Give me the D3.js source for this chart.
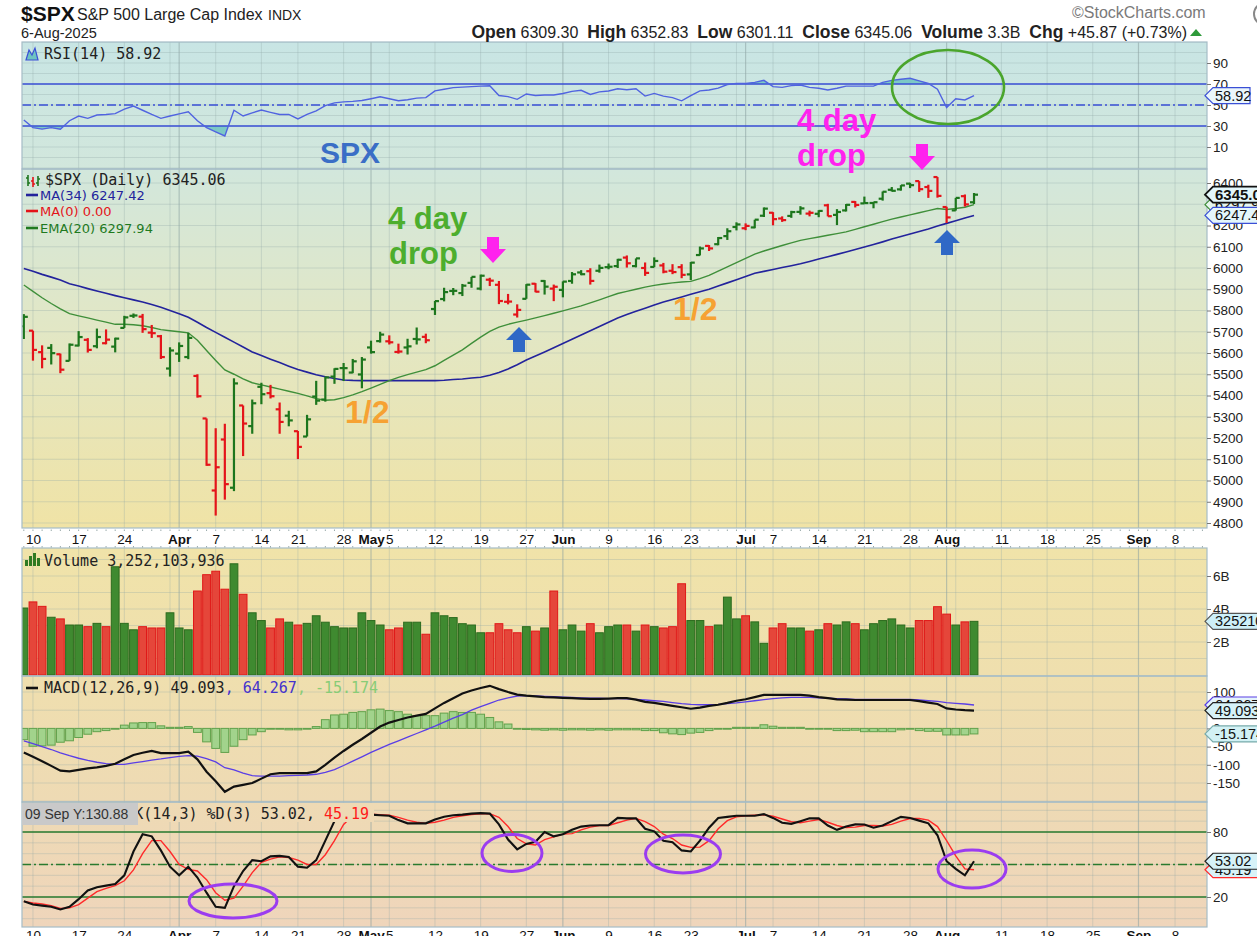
<!DOCTYPE html>
<html><head><meta charset="utf-8">
<script src="https://cdn.jsdelivr.net/npm/d3@7/dist/d3.min.js"></script>
<style>
html,body{margin:0;padding:0;background:#fff}
svg{display:block}
text{white-space:pre}
</style></head><body>
<svg id="chart" width="1257" height="936"></svg>
<script>
// ---------------- DATA ----------------
const firstDay = "2025-03-07", lastAxisDay = "2025-09-12";
const holidays = ["2025-04-18","2025-05-26","2025-06-19","2025-07-04","2025-09-01"];
const prevClose = 5738.5;

const opens = [5726,5705,5604,5624,5594,5563,5635,5662,5632,5646,5630,5718,5775,5771,5696,5679,5527,5597,5581,5492,
5292,4953,5193,4966,5353,5256,5441,5411,5335,5305,5232,5207,5395,5381,5489,5529,5508,5499,5626,5656,
5655,5605,5626,5666,5676,5807,5854,5892,5882,5930,5903,5945,5921,5841,5781,5855,5926,5939,5903,5897,
5939,5979,5985,5987,6004,6009,6049,6009,6000,6005,6012,5987,6004,5970,6061,6104,6112,6150,6193,6187,
6191,6246,6260,6233,6245,6264,6256,6255,6295,6250,6271,6311,6304,6306,6326,6368,6370,6397,6409,6381,
6428,6287,6271,6338,6309.30];
const highs = [5783,5705,5636,5642,5597,5645,5703,5670,5715,5711,5672,5775,5786,5784,5732,5685,5627,5650,5695,5500,
5292,5246,5267,5481,5353,5381,5460,5450,5367,5328,5233,5309,5469,5489,5528,5553,5572,5581,5658,5700,
5683,5644,5667,5720,5691,5845,5907,5906,5925,5958,5969,5954,5939,5878,5829,5924,5929,5943,5922,5937,
5981,5990,5999,6016,6021,6043,6059,6045,6026,6050,6024,6018,6018,6028,6101,6108,6146,6187,6215,6210,
6227,6285,6263,6243,6269,6291,6270,6272,6302,6277,6301,6315,6336,6310,6360,6381,6390,6401,6409,6392,
6428,6288,6330,6346,6352.83];
const lows = [5666,5564,5528,5546,5505,5563,5631,5602,5622,5641,5603,5718,5765,5695,5671,5572,5489,5558,5571,5390,
5069,4835,4910,4950,5115,5220,5359,5386,5220,5255,5101,5207,5356,5371,5455,5468,5505,5434,5597,5649,
5640,5597,5593,5640,5646,5779,5843,5872,5868,5907,5895,5915,5830,5829,5767,5855,5886,5875,5844,5862,
5926,5966,5922,5978,5994,6000,6002,6003,5963,6004,5975,5971,5952,5943,6059,6080,6107,6132,6177,6178,
6187,6240,6201,6217,6236,6251,6243,6239,6243,6202,6266,6285,6303,6281,6317,6360,6364,6376,6358,6330,
6331,6212,6270,6289,6301.11];
const closes = [5770.2,5614.6,5572.1,5599.3,5521.5,5638.9,5675.1,5614.7,5675.3,5662.9,5667.6,5767.6,5776.6,5712.2,5693.3,5580.9,5611.9,5633.1,5671.0,5396.5,
5074.1,5062.3,4982.8,5456.9,5268.1,5363.4,5406.0,5396.6,5275.7,5282.7,5158.2,5287.8,5375.9,5484.8,5525.2,5528.75,5560.8,5569.1,5604.1,5686.7,
5650.4,5606.9,5631.3,5663.9,5659.9,5844.2,5886.6,5892.6,5916.9,5958.4,5963.6,5940.5,5844.6,5842.0,5802.8,5921.5,5888.6,5912.2,5911.7,5935.9,
5970.4,5970.8,5939.3,6000.4,6005.9,6038.8,6022.2,6045.3,5977.0,6033.1,5982.7,5980.9,5967.8,6025.2,6092.18,6092.16,6141.0,6173.1,6204.95,6198.0,
6227.4,6279.35,6229.98,6225.5,6263.3,6280.5,6259.75,6268.6,6243.8,6263.7,6297.36,6296.79,6305.6,6309.6,6358.9,6363.35,6388.6,6389.8,6370.9,6362.9,
6339.4,6238.0,6329.9,6299.2,6345.06];
const volumeB = [4.06,4.43,4.16,3.5,3.4,3.03,3.03,2.93,3.13,2.93,6.56,3.13,2.74,2.93,2.85,2.85,3.77,2.85,2.74,5.09,
6.08,6.29,5.2,6.74,4.89,3.77,3.3,2.85,3.4,3.2,3.03,3.13,3.59,3.2,2.93,2.85,2.85,3.77,3.3,3.03,
2.74,2.85,3.2,3.2,2.47,3.77,3.59,3.48,3.11,3.03,2.56,2.56,3.11,2.74,2.56,2.93,2.66,2.85,5.09,2.74,
3.03,2.66,3.11,2.56,2.93,3.03,3.03,2.66,3.03,2.93,2.85,2.93,5.53,3.3,3.3,2.93,3.03,4.72,3.4,3.59,
3.22,1.92,2.85,3.11,2.85,2.85,2.66,2.74,3.11,3.03,3.22,3.11,2.74,3.11,3.3,3.4,3.03,2.85,3.3,3.3,
4.14,3.69,3.03,3.22,3.252];
const ma34 = [5998,5985,5970,5957,5943,5926,5915,5903,5892,5881,5870,5860,5850,5840,5828,5815,5800,5785,5768,5745,
5720,5697,5674,5651,5628,5605,5588,5571,5555,5538,5522,5510,5498,5488,5480,5473,5471,5470,5470,5470,
5470,5470,5470,5470,5470,5470,5472,5475,5478,5482,5486,5495,5508,5525,5545,5567,5586,5605,5625,5645,
5665,5685,5705,5725,5745,5765,5781,5796,5811,5826,5840,5852,5864,5876,5888,5900,5915,5930,5945,5960,
5975,5984,5993,6002,6011,6020,6031,6042,6053,6064,6075,6087,6099,6111,6123,6136,6148,6160,6172,6184,
6198,6210,6222,6235,6247.42];
const ema20 = [5920,5890,5860,5833,5808,5785,5775,5765,5755,5745,5735,5735,5733,5728,5720,5710,5705,5700,5695,5660,
5612,5565,5520,5500,5478,5460,5450,5440,5430,5420,5410,5398,5385,5378,5380,5390,5403,5418,5435,5452,
5470,5485,5498,5510,5522,5540,5565,5590,5615,5645,5675,5702,5722,5735,5745,5755,5765,5776,5787,5798,
5810,5822,5836,5850,5865,5880,5890,5900,5910,5918,5925,5930,5934,5937,5950,5965,5985,6005,6025,6045,
6065,6080,6093,6106,6118,6130,6138,6146,6154,6162,6170,6182,6194,6206,6218,6230,6240,6250,6260,6270,
6280,6275,6280,6286,6297.94];
const rsi14 = [35.7,28.5,27,28.4,26.9,35,39.5,37.3,40.5,41,41.8,46,49,45,41,37.3,39.5,41.5,43.6,35,
28.5,24.5,20.5,45,39.5,42.5,45.2,43,41,41.1,36.7,41,44.5,49.5,52,53,53.5,54.3,56,57.9,
56,54,55,56.5,57,63.5,65,66.5,67,67.5,68,68.4,59,58,55.4,60.5,59,59.5,59.5,61,
63,64,60,62.5,63.3,65.5,64.5,65.5,58.5,61,58.5,57,54,59,63.5,64.3,66,69.5,70.6,70.6,
71.5,73.5,67.5,66.8,68.5,69,66.8,66,64.3,66,68,68,68,68,71.5,73.5,74.5,75.4,73,70.5,
65,47.5,56,54.8,58.92];
const macdLine = [-66,-78,-90,-103,-116,-118,-114,-110,-107,-103,-97,-85,-73,-67,-62,-68,-68,-68,-64,-85,
-119,-145,-174,-160,-155,-150,-138,-126,-123,-123,-123,-123,-118,-100,-80,-62,-45,-29,-12,5,
16,23,30,35,40,55,70,83,96,104,111,117,108,100,93,90,88,86,85,84,
83,82,81,81,82,83,83,79,73,70,66,62,58,54,57,62,65,70,76,80,
86,92,92,92,92,92,90,86,83,80,79,78,78,78,78,78,78,78,75,71,
67,55,52,50,49.093];
const signalLine = [-34,-42,-50,-58,-67,-75,-82,-88,-93,-97,-99,-99,-95,-91,-87,-84,-80,-77,-75,-76,
-83,-92,-108,-114,-123,-130,-131,-131,-131,-130,-129,-128,-126,-121,-113,-102,-90,-78,-66,-55,
-44,-34,-24,-14,-4,6,17,28,38,50,60,69,78,84,89,90,89,88,87,86,
85,84,83,83,82,82,81,80,78,76,74,71,68,66,65,65,66,68,70,73,
76,79,82,84,85,85,85,84,83,82,81,80,80,80,80,80,80,80,78,76,
74,71,69,67,64.267];
const macdHist = [-31,-49,-48,-46,-38,-34,-25,-16,-9,-6,-2,9,15,16,16,7,3,3,5,-11,
-37,-55,-66,-49,-31,-18,-9,-2,-2,-4,-4,0,5,24,37,39,44,46,51,53,
49,46,39,35,35,35,42,46,44,44,39,30,18,12,0,-3,-4,-5,-4,-5,
-4,-4,-5,-4,-5,-4,-4,-4,-6,-6,-12,-15,-17,-13,-11,-6,-2,0,3,3,
3,10,6,3,3,3,0,-2,-2,-6,-6,-5,-9,-9,-9,-9,-4,-2,-6,-8,
-8,-18,-18,-18,-15.174];
const stochK = [16,13,12,11,8.5,11,18,26,29,30.5,32,40,62,78,76,63,48,40,48,38,
24,11,10,30,44,54,53,57.5,58,57,48,47,54,72,90,97,97,96.5,96,95.5,
95,91,88,88,88,91.5,94,95.5,96,97,97.4,97,87,73,64,69,71,80,76,78,
82,85,86,86.3,86.3,93,92.6,92.6,83,80.6,72,70.5,63,62,72,84,93,94,95,95,
95,96.5,93,88.5,87.5,90,92.6,92.6,86,82,85,87,86.9,84,86,90,94,93,90.5,88,
77,53,46,40,53.02];
const stochD = [16,14.5,13.5,12,9.5,10,13,19,25,28,30.5,35,45,60,72,72,62,50,45.5,44,
36,24,17,19,30,42.5,52,55,57,56.5,54,50,50,59,72,87,95,96.5,96.5,96,
95.5,93.5,91,89,88,89,91,93.5,95,96,96.8,97,93.5,85,74,69,68,73,75.5,78,
78.5,82,84.5,86,86,88.5,91,92.6,89.5,85,78,74,68,65.8,66,72,83,90.5,94,95,
95.5,95.8,94.5,92,89.5,88.5,90,91.5,89,86,84,84.5,86,86,85.5,87,90,92.5,92.5,91,
85,72,58,46,45.19];

const xTickLabels = [["2025-03-10","10"],["2025-03-17","17"],["2025-03-24","24"],["2025-04-01","Apr"],["2025-04-07","7"],
["2025-04-14","14"],["2025-04-21","21"],["2025-04-28","28"],["2025-05-01","May"],["2025-05-05","5"],["2025-05-12","12"],
["2025-05-19","19"],["2025-05-27","27"],["2025-06-02","Jun"],["2025-06-09","9"],["2025-06-16","16"],["2025-06-23","23"],
["2025-07-01","Jul"],["2025-07-07","7"],["2025-07-14","14"],["2025-07-21","21"],["2025-07-28","28"],["2025-08-01","Aug"],
["2025-08-11","11"],["2025-08-18","18"],["2025-08-25","25"],["2025-09-02","Sep"],["2025-09-08","8"]];
const monthNames = ["Apr","May","Jun","Jul","Aug","Sep"];
const rsiTicks = [10,30,50,70,90];
const priceTicks = [4800,4900,5000,5100,5200,5300,5400,5500,5600,5700,5800,5900,6000,6100,6200,6300,6400];
const volTicks = [2,4,6];
const macdTicks = [-150,-100,-50,0,50,100];
const stoTicks = [20,80];

// ---------------- SETUP ----------------
const svg = d3.select("#chart");
const SANS = "'Liberation Sans', Arial, sans-serif";
const MONO = "'DejaVu Sans Mono', monospace";
const DV = "'DejaVu Sans', sans-serif";
const fmt = d3.timeFormat("%Y-%m-%d");
const allDays = d3.timeDay.range(d3.timeParse("%Y-%m-%d")(firstDay), d3.timeDay.offset(d3.timeParse("%Y-%m-%d")(lastAxisDay),1))
  .filter(dt => dt.getDay() % 6 !== 0 && !holidays.includes(fmt(dt)));
const idxOf = s => allDays.findIndex(dt => fmt(dt) === s);
const N = closes.length;

const L = 22, R = 1207;
const P = {rsi:[42,169], price:[169,528], vol:[548,676], macd:[676,802], sto:[802,927]};

const x = d3.scaleLinear().domain([-0.2, 129.5]).range([L, R]);
const yR = d3.scaleLinear().domain([0,100]).range([157.5,52.5]);
const yP = d3.scaleLinear().domain([4800,6400]).range([523,183]);
const yV = d3.scaleLinear().domain([0,6]).range([675,576]);
const yM = d3.scaleLinear().domain([-150,100]).range([783,692]);
const yS = d3.scaleLinear().domain([20,80]).range([897,832]);

const defs = svg.append("defs");
const grad = defs.append("linearGradient").attr("id","bg").attr("gradientUnits","userSpaceOnUse")
  .attr("x1",0).attr("x2",0).attr("y1",42).attr("y2",927);
[[0,"#c8e5e4"],[0.145,"#d2e7dc"],[0.325,"#e2e7c5"],[0.549,"#f0e3a6"],[0.571,"#f0e3a9"],[0.715,"#efdfae"],[0.858,"#eedab4"],[1,"#efd5bb"]]
  .forEach(([o,c]) => grad.append("stop").attr("offset",o).attr("stop-color",c));

Object.entries(P).forEach(([k,[t,b]]) => {
  defs.append("clipPath").attr("id","clip-"+k).append("rect").attr("x",L).attr("y",t).attr("width",R-L).attr("height",b-t);
  svg.append("rect").attr("x",L).attr("y",t).attr("width",R-L).attr("height",b-t).attr("fill","url(#bg)");
});
const layer = k => svg.append("g").attr("clip-path",`url(#clip-${k})`);

// vertical grid (week starts & month starts)
const weekStarts = [], monthStarts = [];
allDays.forEach((dt,i) => {
  if (i === 0) return;
  const p = allDays[i-1];
  if (dt.getMonth() !== p.getMonth()) monthStarts.push(i);
  else if (dt.getDay() < p.getDay()) weekStarts.push(i);
});
const grid = svg.append("g");
Object.entries(P).forEach(([k,[t,b]]) => {
  const g = grid.append("g").attr("clip-path",`url(#clip-${k})`);
  weekStarts.forEach(i => g.append("line").attr("x1",x(i)).attr("x2",x(i)).attr("y1",t).attr("y2",b)
    .attr("stroke","#8fa6a6").attr("stroke-opacity",0.3).attr("stroke-width",1));
  monthStarts.forEach(i => g.append("line").attr("x1",x(i)).attr("x2",x(i)).attr("y1",t).attr("y2",b)
    .attr("stroke","#8aa0a0").attr("stroke-opacity",0.55).attr("stroke-width",1.2));
});
function hgrid(k, scale, vals){
  const g = grid.append("g").attr("clip-path",`url(#clip-${k})`);
  vals.forEach(v => g.append("line").attr("x1",L).attr("x2",R).attr("y1",scale(v)).attr("y2",scale(v))
    .attr("stroke","#8fa6a6").attr("stroke-opacity",0.3));
}
hgrid("rsi", yR, d3.range(-10,111,10));
hgrid("price", yP, d3.range(4800,6500,100));
hgrid("vol", yV, [1,2,3,4,5,6,7]);
hgrid("macd", yM, d3.range(-200,151,50));
hgrid("sto", yS, d3.range(0,101,10));

// ---------------- RSI ----------------
const gR = layer("rsi");
const rsiLineGen = d3.line().x((d,i)=>x(i)).y(d=>yR(d));
defs.append("clipPath").attr("id","rsiHi").append("rect").attr("x",L).attr("y",P.rsi[0]).attr("width",R-L).attr("height",yR(70)-P.rsi[0]);
defs.append("clipPath").attr("id","rsiLo").append("rect").attr("x",L).attr("y",yR(30)).attr("width",R-L).attr("height",P.rsi[1]-yR(30));
gR.append("path").datum(rsi14).attr("clip-path","url(#rsiHi)")
  .attr("d", d3.area().x((d,i)=>x(i)).y0(yR(70)).y1(d=>yR(d))).attr("fill","#6ec3c1").attr("opacity",0.85);
gR.append("path").datum(rsi14).attr("clip-path","url(#rsiLo)")
  .attr("d", d3.area().x((d,i)=>x(i)).y0(yR(30)).y1(d=>yR(d))).attr("fill","#6ec3c1").attr("opacity",0.85);
[70,30].forEach(v => gR.append("line").attr("x1",L).attr("x2",R).attr("y1",yR(v)).attr("y2",yR(v)).attr("stroke","#3a4fd6").attr("stroke-width",1.6));
gR.append("line").attr("x1",L).attr("x2",R).attr("y1",yR(50)).attr("y2",yR(50)).attr("stroke","#3a4fd6").attr("stroke-width",1.3).attr("stroke-dasharray","9,3,2,3");
gR.append("path").datum(rsi14).attr("d",rsiLineGen).attr("fill","none").attr("stroke","#5063e0").attr("stroke-width",1.4);

// ---------------- PRICE ----------------
const gP = layer("price");
const lineGen = (ys) => d3.line().x((d,i)=>x(i)).y(d=>ys(d));
gP.append("path").datum(ma34).attr("d",lineGen(yP)).attr("fill","none").attr("stroke","#23239c").attr("stroke-width",1.6);
gP.append("path").datum(ema20).attr("d",lineGen(yP)).attr("fill","none").attr("stroke","#3f8f3a").attr("stroke-width",1.4);
const upDown = closes.map((c,i) => c > (i ? closes[i-1] : prevClose));
const GREEN = "#1d761d", RED = "#e4141a";
closes.forEach((c,i) => {
  const col = upDown[i] ? GREEN : RED, cx = x(i);
  gP.append("line").attr("x1",cx).attr("x2",cx).attr("y1",yP(highs[i])).attr("y2",yP(lows[i])).attr("stroke",col).attr("stroke-width",2.2);
  gP.append("line").attr("x1",cx-4).attr("x2",cx).attr("y1",yP(opens[i])).attr("y2",yP(opens[i])).attr("stroke",col).attr("stroke-width",2.2);
  gP.append("line").attr("x1",cx).attr("x2",cx+4).attr("y1",yP(c)).attr("y2",yP(c)).attr("stroke",col).attr("stroke-width",2.2);
});

// ---------------- VOLUME ----------------
const gV = layer("vol");
volumeB.forEach((v,i) => {
  gV.append("rect").attr("x",x(i)-3.9).attr("width",7.8).attr("y",yV(v)).attr("height",yV(0)-yV(v))
    .attr("fill", upDown[i] ? "#3f8a30" : "#e5463a").attr("stroke", upDown[i] ? "#2c6b1e" : "#e01818").attr("stroke-width",1);
});

// ---------------- MACD ----------------
const gM = layer("macd");
macdHist.forEach((v,i) => {
  const y0 = yM(0), y1 = yM(v);
  gM.append("rect").attr("x",x(i)-3.9).attr("width",7.8).attr("y",Math.min(y0,y1)).attr("height",Math.max(0.8,Math.abs(y1-y0)))
    .attr("fill","#a2d38c").attr("stroke","#62a24c").attr("stroke-width",1);
});
gM.append("path").datum(signalLine).attr("d",lineGen(yM)).attr("fill","none").attr("stroke","#5a3ee6").attr("stroke-width",1.3);
gM.append("path").datum(macdLine).attr("d",lineGen(yM)).attr("fill","none").attr("stroke","#111").attr("stroke-width",2.2);

// ---------------- STOCHASTIC ----------------
const gS = layer("sto");
[80,20].forEach(v => gS.append("line").attr("x1",L).attr("x2",R).attr("y1",yS(v)).attr("y2",yS(v)).attr("stroke","#2a7a2e").attr("stroke-width",1.7));
gS.append("line").attr("x1",L).attr("x2",R).attr("y1",yS(50)).attr("y2",yS(50)).attr("stroke","#2a7a2e").attr("stroke-width",1.4).attr("stroke-dasharray","9,3,2,3");
gS.append("path").datum(stochD).attr("d",lineGen(yS)).attr("fill","none").attr("stroke","#ff2a2a").attr("stroke-width",1.4);
gS.append("path").datum(stochK).attr("d",lineGen(yS)).attr("fill","none").attr("stroke","#111").attr("stroke-width",2.1);

// ---------------- PANEL BORDERS ----------------
Object.values(P).forEach(([t,b]) => svg.append("rect").attr("x",L).attr("y",t).attr("width",R-L).attr("height",b-t)
  .attr("fill","none").attr("stroke","#a5bcc6").attr("stroke-width",1.2));

// ---------------- X AXES ----------------
const tickIdx = xTickLabels.map(d => idxOf(d[0]));
function xAxis(yPos, textY){
  const g = svg.append("g").attr("transform",`translate(0,${yPos})`)
    .call(d3.axisBottom(x).tickValues(tickIdx).tickFormat((d,i)=>xTickLabels[i][1]).tickSize(0));
  g.select(".domain").remove();
  g.selectAll("text").attr("y",textY).attr("dy",null).attr("font-family",SANS).attr("font-size",13.5).attr("fill","#111")
    .attr("font-weight",(d,i)=> monthNames.includes(xTickLabels[i][1]) ? "bold" : "normal");
  return g;
}
xAxis(528, 16);
xAxis(927, 13);
const ticksG = svg.append("g");
allDays.forEach((dt,i) => {
  if (x(i) < L || x(i) > R) return;
  [529.5, 546].forEach(yy => ticksG.append("line").attr("x1",x(i)).attr("x2",x(i)).attr("y1",yy).attr("y2",yy+1.5).attr("stroke","#9aa"));
});

// ---------------- RIGHT AXES ----------------
function rightAxis(scale, vals, f){
  const g = svg.append("g").attr("transform",`translate(${R},0)`)
    .call(d3.axisRight(scale).tickValues(vals).tickFormat(f).tickSize(4).tickPadding(2));
  g.select(".domain").remove();
  g.selectAll("line").attr("stroke","#777");
  g.selectAll("text").attr("font-family",SANS).attr("font-size",13.5).attr("fill","#222");
}
rightAxis(yR, rsiTicks, d=>d);
rightAxis(yP, priceTicks, d=>d);
rightAxis(yV, volTicks, d=>d+"B");
rightAxis(yM, macdTicks, d=>d);
rightAxis(yS, stoTicks, d=>d);

function tag(y, txtS, stroke, fill, bold, right){
  const r = right || 1262;
  svg.append("path").attr("d",`M${R-2},${y} L${R+6},${y-8} L${r},${y-8} L${r},${y+8} L${R+6},${y+8} Z`)
    .attr("fill",fill).attr("stroke",stroke).attr("stroke-width",bold?1.8:1.2);
  svg.append("text").attr("x",R+8).attr("y",y+5).text(txtS).attr("font-family",SANS).attr("font-size",bold?15:14.5)
    .attr("font-weight",bold?"bold":"normal").attr("fill","#111");
}
tag(yR(rsi14[N-1]), "58.92", "#3a4fd6", "#eaf6fb", false, 1250);
tag(yP(ema20[N-1]), "6297.9", "#3f8f3a", "#e6f6ee", false);
tag(yP(ma34[N-1]), "6247.4", "#3a4fd6", "#e4f6fb", false);
tag(yP(closes[N-1]), "6345.0", "#111", "#e4f7fb", true);
tag(yV(volumeB[N-1]), "3252103936", "#555", "#cdeff8", false);
tag(yM(signalLine[N-1]), "64.267", "#5a3ee6", "#e4f4fb", false);
tag(yM(macdLine[N-1]), "49.093", "#222", "#d6f2f8", false);
tag(yM(macdHist[N-1]), "-15.174", "#7aa", "#d2f1f4", false);
tag(yS(stochD[N-1]), "45.19", "#ff2a2a", "#d8f2f8", false);
tag(yS(stochK[N-1]), "53.02", "#222", "#d6f2f8", false);

// ---------------- LEGENDS ----------------
function txt(xp, yp, s, o){
  o = o || {};
  return svg.append("text").attr("x",xp).attr("y",yp).text(s).attr("font-family",o.f||MONO).attr("font-size",o.s||15)
    .attr("fill",o.c||"#222").attr("font-weight",o.w||"normal");
}
svg.append("path").attr("d","M26,60 L29,50 L32,55 L35,48 L38,60 Z").attr("fill","#6ec3c1").attr("stroke","#3a4fd6").attr("stroke-width",1.2);
txt(44, 59, "RSI(14) 58.92");
[[28,175,186,178,183],[33,177,187,181,184],[38,176,186,183,179]].forEach(([bx,hi,lo,o,c],k)=>{
  const col = k===1 ? RED : GREEN;
  svg.append("line").attr("x1",bx).attr("x2",bx).attr("y1",hi).attr("y2",lo).attr("stroke",col).attr("stroke-width",1.6);
  svg.append("line").attr("x1",bx-2).attr("x2",bx).attr("y1",o).attr("y2",o).attr("stroke",col).attr("stroke-width",1.4);
  svg.append("line").attr("x1",bx).attr("x2",bx+2).attr("y1",c).attr("y2",c).attr("stroke",col).attr("stroke-width",1.4);
});
txt(45, 185, "$SPX (Daily) 6345.06");
[["MA(34) 6247.42","#23239c",200],["MA(0) 0.00","#e4141a",216],["EMA(20) 6297.94","#1f7a1f",233]].forEach(([s,c,yy])=>{
  svg.append("line").attr("x1",26).attr("x2",38).attr("y1",yy-5).attr("y2",yy-5).attr("stroke",c).attr("stroke-width",2.6);
  txt(40, yy, s, {f:DV, s:13, c});
});
[[25,560],[29,556],[33,553],[37,558]].forEach(([bx,top])=> svg.append("rect").attr("x",bx).attr("y",top).attr("width",3).attr("height",566-top).attr("fill","#2f7a22"));
txt(44, 566, "Volume 3,252,103,936");
svg.append("line").attr("x1",26).attr("x2",38).attr("y1",688).attr("y2",688).attr("stroke","#111").attr("stroke-width",2.6);
const mt = txt(44, 693, "MACD(12,26,9) 49.093");
mt.append("tspan").text(", 64.267").attr("fill","#4433cc");
mt.append("tspan").text(", -15.174").attr("fill","#88cc77");
svg.append("rect").attr("x",138).attr("y",803).attr("width",236).attr("height",19).attr("fill","url(#bg)");
const st = txt(44, 819, "Slow STO %K(14,3) %D(3) 53.02, ");
st.append("tspan").text("45.19").attr("fill","#ff1a1a");
svg.append("rect").attr("x",22).attr("y",803).attr("width",116).attr("height",22).attr("fill","#c9c9c9");
txt(25, 819, "09 Sep Y:130.88", {f:SANS, s:14, c:"#333"});

// ---------------- HEADER ----------------
txt(21, 21, "$SPX", {f:SANS, s:21, w:"bold", c:"#111"});
txt(77, 20, "S&P 500 Large Cap Index", {f:SANS, s:16, c:"#222"});
txt(268, 20, "INDX", {f:SANS, s:14, c:"#222"});
txt(21, 38, "6-Aug-2025", {f:SANS, s:14.5, c:"#222"});
const hdr = svg.append("text").attr("x",1187).attr("y",38).attr("text-anchor","end").attr("font-family",SANS).attr("fill","#222");
[["Open",1],[" 6309.30  ",0],["High",1],[" 6352.83  ",0],["Low",1],[" 6301.11  ",0],["Close",1],[" 6345.06  ",0],
 ["Volume",1],[" 3.3B  ",0],["Chg",1],[" +45.87 (+0.73%)",0]].forEach(([s,b]) =>
  hdr.append("tspan").text(s).attr("font-weight",b?"bold":"normal").attr("font-size",b?17.5:16));
svg.append("path").attr("d","M1190,36 L1196,29 L1202,36 Z").attr("fill","#2e9a3a");
txt(1072, 18, "\u00A9StockCharts.com", {f:SANS, s:16, c:"#7a7a7a"});
svg.append("circle").attr("cx",1265).attr("cy",14).attr("r",11).attr("fill","none").attr("stroke","#888").attr("stroke-width",2);

// ---------------- ANNOTATIONS ----------------
const ann = svg.append("g").attr("font-family",SANS).attr("font-weight","bold");
ann.append("text").attr("x",320).attr("y",163).text("SPX").attr("font-size",30).attr("fill","#3a6ec6");
ann.append("text").attr("x",388).attr("y",229).text("4 day").attr("font-size",31).attr("fill","#4dae2e");
ann.append("text").attr("x",389).attr("y",264).text("drop").attr("font-size",31).attr("fill","#4dae2e");
ann.append("text").attr("x",797).attr("y",131).text("4 day").attr("font-size",31).attr("fill","#ff22ee");
ann.append("text").attr("x",797).attr("y",166).text("drop").attr("font-size",31).attr("fill","#ff22ee");
ann.append("text").attr("x",345).attr("y",423).text("1/2").attr("font-size",32).attr("fill","#f6a233");
ann.append("text").attr("x",673).attr("y",320).text("1/2").attr("font-size",32).attr("fill","#f6a233");
function downArrow(cx, ty, col){
  svg.append("path").attr("d",`M${cx-6},${ty} L${cx+6},${ty} L${cx+6},${ty+12} L${cx+13},${ty+12} L${cx},${ty+26} L${cx-13},${ty+12} L${cx-6},${ty+12} Z`).attr("fill",col);
}
function upArrow(cx, ty, col){
  svg.append("path").attr("d",`M${cx},${ty} L${cx+13},${ty+13} L${cx+6},${ty+13} L${cx+6},${ty+25} L${cx-6},${ty+25} L${cx-6},${ty+13} L${cx-13},${ty+13} Z`).attr("fill",col);
}
downArrow(493, 237, "#ff22ee");
downArrow(922, 144, "#ff22ee");
upArrow(519, 327, "#2f68c6");
upArrow(947, 230, "#2f68c6");
svg.append("ellipse").attr("cx",948).attr("cy",87).attr("rx",56).attr("ry",37).attr("fill","none").attr("stroke","#4aa52c").attr("stroke-width",2.6);
[[233,901,44,17],[512,853,30,18.5],[683,854,37.5,19],[972,869,34,19]].forEach(([cx,cy,rx,ry]) =>
  svg.append("ellipse").attr("cx",cx).attr("cy",cy).attr("rx",rx).attr("ry",ry).attr("fill","none").attr("stroke","#9b3cf0").attr("stroke-width",3));
</script></body></html>
